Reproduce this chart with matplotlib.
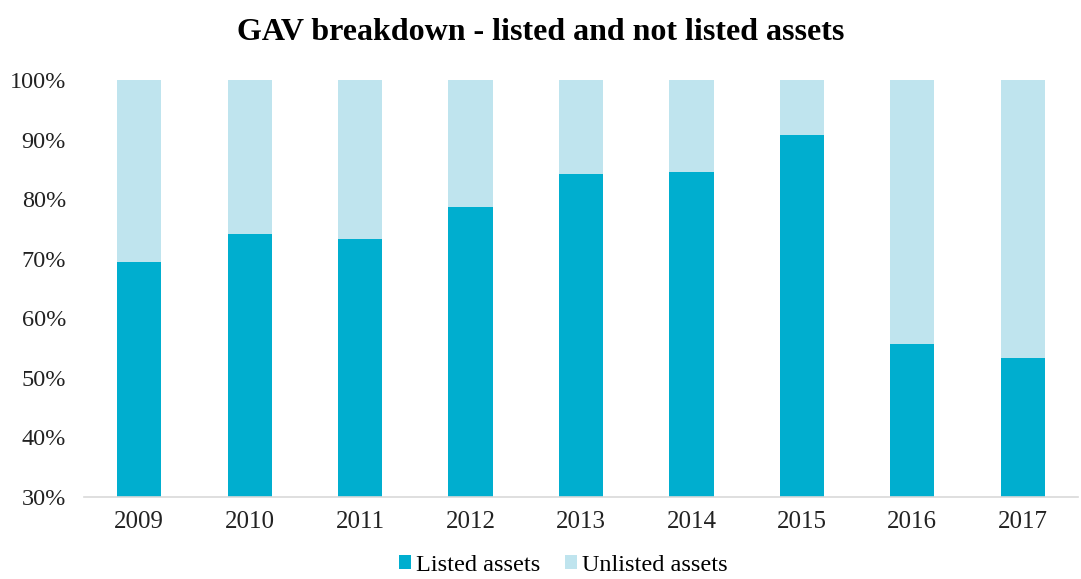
import numpy as np
import matplotlib.pyplot as plt
from matplotlib.ticker import PercentFormatter

years = ['2009', '2010', '2011', '2012', '2013', '2014', '2015', '2016', '2017']
listed = [69.4, 74.1, 73.3, 78.7, 84.2, 84.6, 90.8, 55.7, 53.3]   # % of GAV
unlisted = [100 - v for v in listed]

plt.rcParams['font.family'] = ['Liberation Serif', 'DejaVu Serif']

fig = plt.figure(figsize=(10.81, 5.79), dpi=100)
ax = fig.add_axes([0.0777, 0.1416, 0.9195, 0.7202])

x = np.arange(len(years))
ax.bar(x, listed, width=0.4, color='#00AECF', label='Listed assets')
ax.bar(x, unlisted, width=0.4, bottom=listed, color='#BFE4EE', label='Unlisted assets')

ax.set_ylim(30, 100)
ax.set_xlim(-0.5, len(years) - 0.5)
ax.set_yticks(np.arange(30, 101, 10))
ax.yaxis.set_major_formatter(PercentFormatter(decimals=0))
ax.set_xticks(x)
ax.set_xticklabels(years)
ax.tick_params(axis='both', length=0, colors='#222222')
ax.tick_params(axis='y', labelsize=17.5, pad=13)
ax.tick_params(axis='x', labelsize=18, pad=10)

for s in ['top', 'right', 'left']:
    ax.spines[s].set_visible(False)
ax.spines['bottom'].set_color('#D9D9D9')
ax.spines['bottom'].set_linewidth(1.2)

fig.suptitle('GAV breakdown - listed and not listed assets', fontsize=23,
             fontweight='bold', y=0.944, va='center')

fig.legend(loc='lower center', bbox_to_anchor=(0.521, -0.032), ncol=2, frameon=False,
           fontsize=17.5, handlelength=0.5, handleheight=0.5, handletextpad=0.2,
           columnspacing=1.0)

fig.savefig('out.png', dpi=100)
